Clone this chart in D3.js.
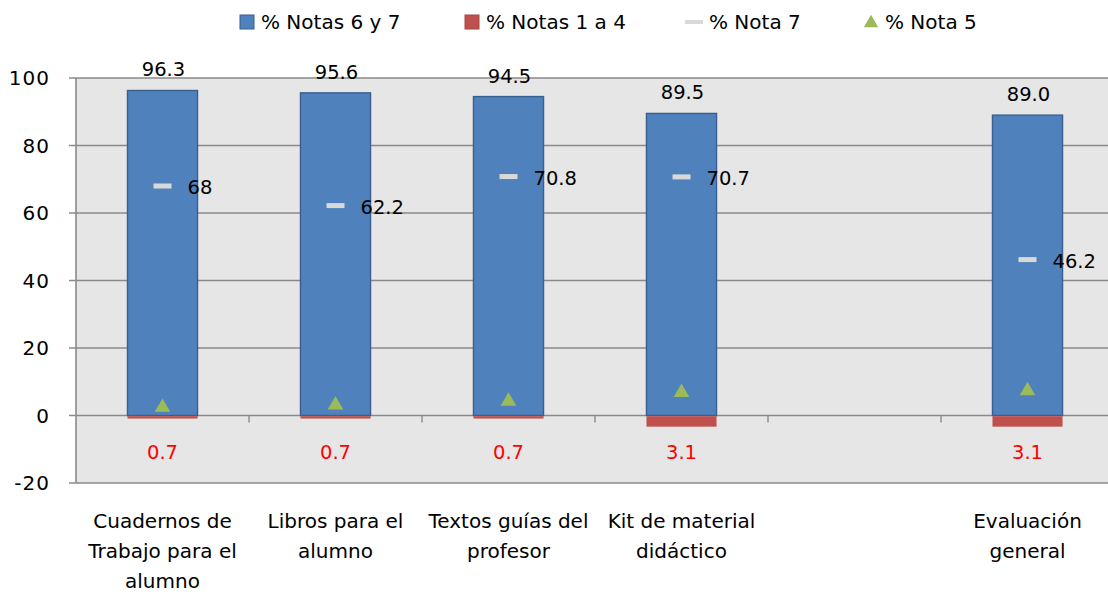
<!DOCTYPE html>
<html lang="es">
<head>
<meta charset="UTF-8">
<title>Notas por material</title>
<script src="https://d3js.org/d3.v7.min.js"></script>
<style>
  body { margin: 0; background: #fff; font-family: "DejaVu Sans", sans-serif; }
  svg text { fill: #000; }
</style>
</head>
<body>
<svg id="chart" width="1108" height="596"></svg>
<script>
// categories (empty slot between "Kit" and "Evaluación")
const categories = ["cuadernos", "libros", "textos", "kit", "vacio", "evaluacion"];
const categoryLines = [
  ["Cuadernos de", "Trabajo para el", "alumno"],
  ["Libros para el", "alumno"],
  ["Textos guías del", "profesor"],
  ["Kit de material", "didáctico"],
  [],
  ["Evaluación", "general"]
];
const notas6y7 = [96.3, 95.6, 94.5, 89.5, null, 89.0];
const notas1a4 = [-0.7, -0.7, -0.7, -3.1, null, -3.1];
const nota7 = [68, 62.2, 70.8, 70.7, null, 46.2];
const nota5 = [3.0, 3.7, 4.8, 7.4, null, 7.9];
const yTicks = [-20, 0, 20, 40, 60, 80, 100];

const seriesNames = ["% Notas 6 y 7", "% Notas 1 a 4", "% Nota 7", "% Nota 5"];
const blue = "#4f81bd", red = "#c0504d", grey = "#d9d9d9", green = "#9bbb59";

const svg = d3.select("#chart");
const plotL = 76, plotR = 1114, plotT = 78, plotB = 483;

const x = d3.scaleBand().domain(categories).range([plotL, plotR]);
const y = d3.scaleLinear().domain([-20, 100]).range([plotB, plotT]);
const barW = x.bandwidth() * 0.405;
const cx = i => x(categories[i]) + x.bandwidth() / 2;

// plot background
svg.append("rect")
  .attr("x", plotL).attr("y", plotT)
  .attr("width", plotR - plotL).attr("height", plotB - plotT)
  .attr("fill", "#e6e6e6");

// gridlines
svg.append("g").selectAll("line")
  .data(yTicks)
  .join("line")
  .attr("x1", plotL - 7).attr("x2", plotR)
  .attr("y1", d => y(d)).attr("y2", d => y(d))
  .attr("stroke", "#8a8a8a").attr("stroke-width", 1.4);

// left axis line
svg.append("line")
  .attr("x1", plotL).attr("x2", plotL)
  .attr("y1", plotT).attr("y2", plotB)
  .attr("stroke", "#8a8a8a").attr("stroke-width", 1.6);

// y tick labels
svg.append("g").selectAll("text")
  .data(yTicks)
  .join("text")
  .attr("x", 50).attr("y", d => y(d))
  .attr("dy", "0.36em")
  .attr("text-anchor", "end")
  .attr("font-size", 20)
  .attr("letter-spacing", 1)
  .text(d => d);

// x axis ticks at zero, on category boundaries
svg.append("g").selectAll("line")
  .data(categories.slice(1))
  .join("line")
  .attr("x1", d => x(d)).attr("x2", d => x(d))
  .attr("y1", y(0)).attr("y2", y(0) + 7)
  .attr("stroke", "#8a8a8a").attr("stroke-width", 1.4);

const idx = d3.range(categories.length).filter(i => notas6y7[i] != null);

// bars % Notas 6 y 7
svg.append("g").selectAll("rect")
  .data(idx)
  .join("rect")
  .attr("x", i => cx(i) - barW / 2)
  .attr("y", i => y(notas6y7[i]))
  .attr("width", barW)
  .attr("height", i => y(0) - y(notas6y7[i]))
  .attr("fill", blue)
  .attr("stroke", "#3a5f8f").attr("stroke-width", 1.4);

// bars % Notas 1 a 4 (negative)
svg.append("g").selectAll("rect")
  .data(idx)
  .join("rect")
  .attr("x", i => cx(i) - barW / 2)
  .attr("y", y(0) + 0.7)
  .attr("width", barW)
  .attr("height", i => y(notas1a4[i]) - y(0))
  .attr("fill", red);

// value labels on top of bars
svg.append("g").selectAll("text")
  .data(idx)
  .join("text")
  .attr("x", i => cx(i) + 1)
  .attr("y", i => y(notas6y7[i]) - 14)
  .attr("text-anchor", "middle")
  .attr("font-size", 19.5)
  .text(i => notas6y7[i].toFixed(1));

// red labels below zero
svg.append("g").selectAll("text")
  .data(idx)
  .join("text")
  .attr("x", i => cx(i))
  .attr("y", y(-13))
  .attr("text-anchor", "middle")
  .attr("font-size", 19.5)
  .style("fill", "#ff0000")
  .text(i => Math.abs(notas1a4[i]).toFixed(1));

// % Nota 7 dash markers
svg.append("g").selectAll("rect")
  .data(idx)
  .join("rect")
  .attr("x", i => cx(i) - 9)
  .attr("y", i => y(nota7[i]) - 2.5)
  .attr("width", 18).attr("height", 5)
  .attr("fill", grey);

svg.append("g").selectAll("text")
  .data(idx)
  .join("text")
  .attr("x", i => cx(i) + 25)
  .attr("y", i => y(nota7[i]) + 8)
  .attr("font-size", 19.5)
  .text(i => nota7[i]);

// % Nota 5 triangles
const tri = d3.symbol().type(d3.symbolTriangle).size(105);
svg.append("g").selectAll("path")
  .data(idx)
  .join("path")
  .attr("d", tri)
  .attr("transform", i => `translate(${cx(i)},${y(nota5[i]) + 2})`)
  .attr("fill", green);

// category labels
const xl = svg.append("g").selectAll("text")
  .data(idx)
  .join("text")
  .attr("text-anchor", "middle")
  .attr("font-size", 20);
xl.selectAll("tspan")
  .data(i => categoryLines[i].map(t => ({ t, i })))
  .join("tspan")
  .attr("x", d => cx(d.i))
  .attr("y", (d, k) => 528 + k * 30)
  .text(d => d.t);

// legend
const legendX = [240, 465, 685, 864];
const lg = svg.append("g").attr("font-size", 20);
seriesNames.forEach((name, k) => {
  const g = lg.append("g").attr("transform", `translate(${legendX[k]},22)`);
  if (k === 0 || k === 1) {
    g.append("rect").attr("x", 0).attr("y", -7).attr("width", 14).attr("height", 14)
      .attr("fill", k === 0 ? blue : red)
      .attr("stroke", k === 0 ? "#3a5f8f" : "#a84441").attr("stroke-width", 1);
  } else if (k === 2) {
    g.append("rect").attr("x", 0).attr("y", -2).attr("width", 18).attr("height", 4).attr("fill", grey);
  } else {
    g.append("path").attr("d", d3.symbol().type(d3.symbolTriangle).size(90))
      .attr("transform", "translate(7,1)").attr("fill", green);
  }
  g.append("text").attr("x", k === 2 ? 24 : 21).attr("y", 0).attr("dy", "0.36em").text(name);
});
</script>
</body>
</html>
